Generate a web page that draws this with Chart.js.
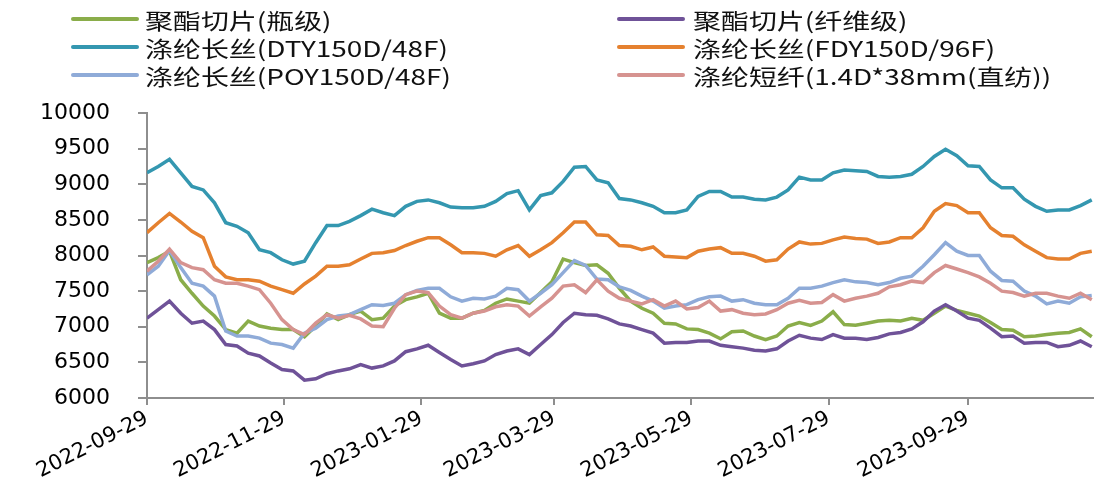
<!DOCTYPE html>
<html>
<head>
<meta charset="utf-8">
<script src="https://cdn.jsdelivr.net/npm/chart.js@4.4.0/dist/chart.umd.min.js"></script>
<style>
body { margin: 0; background: #fff; overflow: hidden; }
#wrap { position: relative; width: 1094px; height: 485px; }
#legend .item { position: absolute; height: 28px; }
#legend .line { position: absolute; top: 12px; height: 4px; width: 68px; border-radius: 2px; }
#legend .txt { position: absolute; top: 1px; font: 22px "Noto Sans CJK SC", sans-serif; line-height: 26px;
  white-space: nowrap; color: #111; transform: scaleX(1.27); transform-origin: left center; }
</style>
</head>
<body>
<div id="wrap">
  <canvas id="mycanvas" width="1094" height="485"></canvas>
  <div id="legend"></div>
</div>
<script>
// day offsets from startDate
var startDate = '2022-09-29';
var days = [0,5,10,15,20,25,30,35,40,45,50,55,60,65,70,75,80,85,90,95,
  100,105,110,115,120,125,130,135,140,145,150,155,160,165,170,175,180,185,190,195,
  200,205,210,215,220,225,230,235,240,245,250,255,260,265,270,275,280,285,290,295,
  300,305,310,315,320,325,330,335,340,345,350,355,360,365,370,375,380,385,390,395,
  400,405,410,415,420];

var xTickLabels = ['2022-09-29','2022-11-29','2023-01-29','2023-03-29','2023-05-29','2023-07-29','2023-09-29'];

var seriesNames = ['聚酯切片(瓶级)','聚酯切片(纤维级)','涤纶长丝(DTY150D/48F)','涤纶长丝(FDY150D/96F)','涤纶长丝(POY150D/48F)','涤纶短纤(1.4D*38mm(直纺))'];

var bottleChip = [7900,7970,8060,7660,7470,7290,7150,6960,6910,7080,7010,6980,6960,6960,6860,7010,7180,7100,7170,7220,
  7100,7120,7290,7380,7420,7470,7190,7120,7120,7190,7230,7330,7390,7360,7330,7480,7630,7950,7900,7860,
  7870,7750,7540,7360,7260,7190,7050,7040,6970,6960,6910,6830,6930,6940,6870,6820,6870,7010,7060,7020,
  7080,7210,7030,7020,7050,7080,7090,7080,7120,7090,7190,7290,7230,7190,7150,7060,6960,6950,6860,6870,
  6890,6910,6920,6970,6860];

var fiberChip = [7120,7240,7360,7190,7050,7080,6960,6750,6730,6630,6590,6490,6400,6380,6250,6270,6340,6380,6410,6470,
  6420,6450,6520,6650,6690,6740,6640,6540,6450,6480,6520,6610,6660,6690,6610,6750,6890,7060,7190,7170,
  7160,7110,7040,7010,6960,6910,6770,6780,6780,6800,6800,6740,6720,6700,6670,6660,6690,6800,6880,6840,
  6820,6890,6840,6840,6820,6850,6900,6920,6970,7070,7220,7310,7220,7120,7090,6980,6860,6870,6770,6780,
  6780,6720,6740,6800,6720];

var dty = [9160,9250,9350,9160,8970,8920,8740,8460,8410,8320,8080,8040,7940,7880,7920,8180,8420,8420,8480,8560,
  8650,8600,8560,8690,8760,8780,8740,8680,8670,8670,8690,8760,8870,8910,8640,8840,8880,9040,9240,9250,
  9060,9020,8800,8780,8740,8690,8600,8600,8640,8830,8900,8900,8820,8820,8790,8780,8820,8920,9100,9060,
  9060,9160,9200,9190,9180,9110,9100,9110,9140,9250,9390,9490,9400,9260,9250,9060,8950,8950,8790,8690,
  8620,8640,8640,8700,8780];

var fdy = [8320,8460,8590,8470,8340,8250,7850,7700,7660,7660,7640,7570,7520,7470,7600,7710,7850,7850,7870,7950,
  8030,8040,8070,8140,8200,8250,8250,8150,8040,8040,8030,7990,8080,8140,7990,8080,8180,8320,8470,8470,
  8290,8280,8140,8130,8080,8120,7990,7980,7970,8060,8090,8110,8030,8030,7990,7920,7940,8090,8190,8160,
  8170,8220,8260,8240,8230,8170,8190,8250,8250,8390,8620,8730,8700,8600,8600,8390,8280,8270,8150,8060,
  7970,7950,7950,8030,8060];

var poy = [7730,7850,8070,7830,7610,7570,7430,6940,6870,6870,6840,6770,6750,6700,6910,6980,7100,7150,7170,7240,
  7310,7300,7330,7450,7510,7540,7540,7420,7360,7400,7390,7430,7540,7520,7360,7470,7590,7760,7930,7860,
  7670,7660,7560,7510,7430,7360,7260,7290,7310,7380,7420,7430,7360,7380,7330,7310,7310,7400,7540,7540,
  7570,7620,7660,7630,7620,7590,7620,7680,7710,7850,8010,8180,8060,8000,8000,7780,7650,7640,7500,7430,
  7320,7360,7330,7420,7440];

var staple = [7780,7920,8090,7900,7830,7800,7660,7610,7610,7570,7520,7330,7100,6960,6890,7050,7170,7120,7160,7110,
  7010,7000,7260,7450,7500,7480,7290,7170,7120,7190,7220,7280,7310,7290,7150,7280,7400,7570,7590,7480,
  7660,7500,7400,7360,7320,7380,7290,7360,7250,7270,7360,7220,7240,7190,7170,7180,7240,7330,7370,7330,
  7340,7450,7360,7400,7430,7470,7560,7590,7640,7620,7760,7860,7810,7760,7700,7610,7500,7480,7430,7470,
  7470,7430,7400,7470,7380];

var seriesValues = [bottleChip, fiberChip, dty, fdy, poy, staple];
var seriesColors = ['#8aad4a','#6f5298','#3497b0','#e5812f','#8fabd8','#d69390'];

function dayOf(s) {
  return (Date.parse(s) - Date.parse(startDate)) / 86400000;
}
var tickDays = xTickLabels.map(dayOf);

var axisGray = '#8e8e8e';

var datasets = seriesNames.map(function (name, k) {
  return {
    label: name,
    data: days.map(function (d, i) { return { x: d, y: seriesValues[k][i] }; }),
    borderColor: seriesColors[k],
    backgroundColor: seriesColors[k],
    borderWidth: 3.5,
    pointRadius: 0,
    tension: 0,
    order: seriesNames.length - k
  };
});

var ctx = document.getElementById('mycanvas');
var chart = new Chart(ctx, {
  type: 'line',
  data: { datasets: datasets },
  options: {
    responsive: false,
    animation: false,
    devicePixelRatio: 1,
    layout: { padding: { top: 113, left: 0, right: 0, bottom: 0 } },
    plugins: { legend: { display: false }, tooltip: { enabled: false } },
    scales: {
      x: {
        type: 'linear',
        min: 0,
        max: 421,
        afterBuildTicks: function (scale) {
          scale.ticks = tickDays.map(function (v) { return { value: v }; });
        },
        afterFit: function (scale) { scale.height = 87; },
        ticks: {
          autoSkip: false,
          minRotation: 27,
          maxRotation: 27,
          padding: 1,
          color: '#000',
          font: { family: 'DejaVu Sans', size: 21 },
          callback: function (v) {
            var i = tickDays.indexOf(v);
            return i >= 0 ? xTickLabels[i] : '';
          }
        },
        grid: { drawOnChartArea: false, drawTicks: true, tickLength: 7, color: axisGray, lineWidth: 2 },
        border: { color: axisGray, width: 2 }
      },
      y: {
        min: 6000,
        max: 10000,
        afterFit: function (scale) { scale.width = 147; },
        ticks: {
          stepSize: 500,
          padding: 28,
          color: '#000',
          font: { family: 'DejaVu Sans', size: 22 },
          callback: function (v) { return String(v); }
        },
        grid: { drawOnChartArea: false, drawTicks: true, tickLength: 9, color: axisGray, lineWidth: 2 },
        border: { color: axisGray, width: 2 }
      }
    }
  }
});

// html legend, two columns
var legendCols = [71, 617];
var legendRows = [5, 33, 61];
var legend = document.getElementById('legend');
chart.data.datasets.forEach(function (ds, k) {
  var item = document.createElement('div');
  item.className = 'item';
  item.style.left = legendCols[k % 2] + 'px';
  item.style.top = legendRows[Math.floor(k / 2)] + 'px';
  var line = document.createElement('span');
  line.className = 'line';
  line.style.background = ds.borderColor;
  var txt = document.createElement('span');
  txt.className = 'txt';
  txt.style.left = (k % 2 ? 76 : 74) + 'px';
  txt.textContent = ds.label;
  item.appendChild(line);
  item.appendChild(txt);
  legend.appendChild(item);
});
</script>
</body>
</html>
